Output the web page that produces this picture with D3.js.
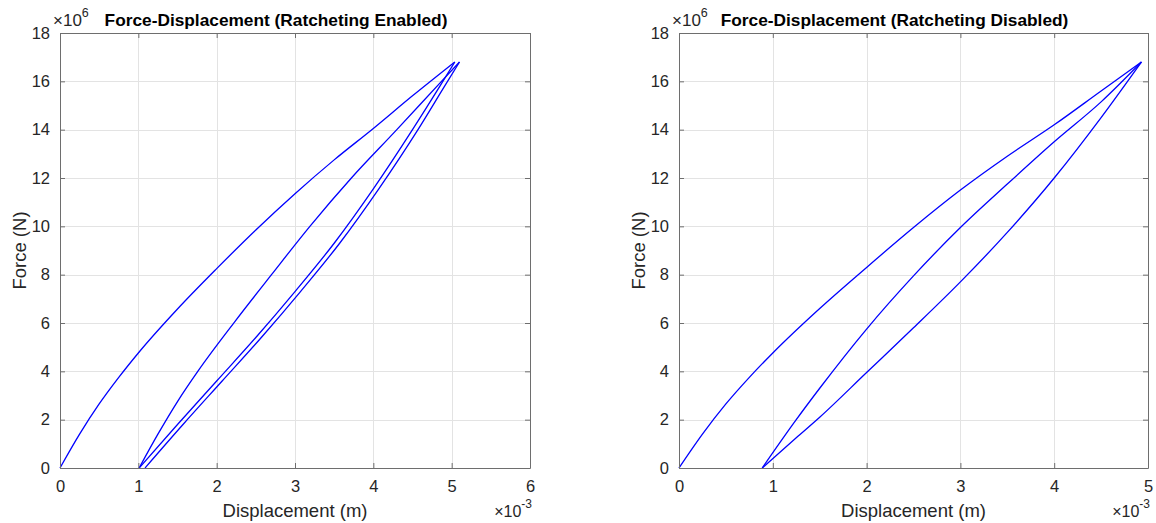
<!DOCTYPE html>
<html>
<head>
<meta charset="utf-8">
<script src="https://cdn.jsdelivr.net/npm/d3@7"></script>
<style>
  body { margin: 0; background: #fff; }
  svg { font-family: "Liberation Sans", Arial, Helvetica, sans-serif; }
  .tick text { fill: #262626; }
</style>
</head>
<body>
<svg id="chart" width="1156" height="523"></svg>
<script>
// ---------------- data (displacement in 1e-3 m, force in 1e6 N) ----------------

var forceTicks = [0, 2, 4, 6, 8, 10, 12, 14, 16, 18];
var enabledDispTicks = [0, 1, 2, 3, 4, 5, 6];
var disabledDispTicks = [0, 1, 2, 3, 4, 5];

// Ratcheting enabled
var enLoadDisp    = [0, 0.25, 0.5, 0.75, 1.0, 1.5, 2.0, 2.5, 3.0, 3.5, 4.0, 4.5, 5.04];
var enLoadForce   = [0, 1.4, 2.65, 3.75, 4.76, 6.58, 8.25, 9.85, 11.35, 12.75, 14.05, 15.4, 16.8];
var enUnloadADisp  = [1.01, 1.5, 2.0, 2.5, 3.0, 3.5, 4.0, 4.5, 4.85, 5.04];
var enUnloadAForce = [0, 1.8, 3.6, 5.4, 7.3, 9.3, 11.55, 14.0, 15.8, 16.8];
var enReloadDisp  = [1.01, 1.25, 1.5, 1.77, 2.23, 2.70, 3.19, 3.72, 4.30, 4.87, 5.1];
var enReloadForce = [0, 1.4, 2.75, 4.05, 6.05, 8.0, 10.0, 12.0, 14.0, 16.0, 16.8];
var enUnloadBDisp  = [1.085, 1.57, 2.07, 2.57, 3.07, 3.57, 4.07, 4.57, 4.91, 5.1];
var enUnloadBForce = [0, 1.8, 3.6, 5.4, 7.3, 9.3, 11.55, 14.0, 15.8, 16.8];

// Ratcheting disabled
var disLoadDisp    = [0, 0.25, 0.5, 0.75, 1.0, 1.5, 2.0, 2.5, 3.0, 3.5, 4.0, 4.5, 4.93];
var disLoadForce   = [0, 1.4, 2.65, 3.75, 4.76, 6.6, 8.3, 9.95, 11.5, 12.9, 14.2, 15.6, 16.8];
var disUnloadDisp  = [0.887, 1.25, 1.5, 2.0, 2.5, 3.0, 3.5, 4.0, 4.5, 4.93];
var disUnloadForce = [0, 1.25, 2.1, 3.95, 5.8, 7.7, 9.75, 12.0, 14.5, 16.8];
var disReloadDisp  = [0.887, 1.25, 1.5, 2.0, 2.5, 3.0, 3.5, 4.0, 4.5, 4.93];
var disReloadForce = [0, 2.0, 3.3, 5.75, 7.95, 9.95, 11.75, 13.5, 15.15, 16.8];

// ---------------- helpers ----------------

function zipPts(xs, ys) {
    return xs.map(function(x, i) { return [x, ys[i]]; });
}

var svg = d3.select('#chart');

function drawPanel(opt) {
    var xScale = d3.scaleLinear().domain(opt.xDomain).range([opt.left, opt.right]);
    var yScale = d3.scaleLinear().domain([0, 18]).range([opt.bottom, opt.top]);
    var g = svg.append('g');

    // grid
    g.append('g').selectAll('line').data(opt.xTicks).enter().append('line')
        .attr('x1', d => Math.round(xScale(d)) + 0.5).attr('x2', d => Math.round(xScale(d)) + 0.5)
        .attr('y1', opt.top).attr('y2', opt.bottom)
        .attr('stroke', '#e3e3e3').attr('stroke-width', 1);
    g.append('g').selectAll('line').data(forceTicks).enter().append('line')
        .attr('y1', d => Math.round(yScale(d)) + 0.5).attr('y2', d => Math.round(yScale(d)) + 0.5)
        .attr('x1', opt.left).attr('x2', opt.right)
        .attr('stroke', '#e3e3e3').attr('stroke-width', 1);

    // curves
    var line = d3.line()
        .x(d => xScale(d[0]))
        .y(d => yScale(d[1]))
        .curve(d3.curveMonotoneX);
    opt.branches.forEach(function(b) {
        g.append('path')
            .attr('d', line(b))
            .attr('fill', 'none')
            .attr('stroke', '#0000ff')
            .attr('stroke-width', 1.3);
    });

    // axes (box, ticks pointing in)
    var fmt = d3.format('d');
    var xAxis = d3.axisBottom(xScale).tickValues(opt.xTicks).tickFormat(fmt).tickSize(-5).tickSizeOuter(0).tickPadding(12);
    var yAxis = d3.axisLeft(yScale).tickValues(forceTicks).tickFormat(fmt).tickSize(-5).tickSizeOuter(0).tickPadding(10);
    var xTop = d3.axisTop(xScale).tickValues(opt.xTicks).tickSize(-5).tickSizeOuter(0).tickFormat('');
    var yRight = d3.axisRight(yScale).tickValues(forceTicks).tickSize(-5).tickSizeOuter(0).tickFormat('');

    [
        [xAxis, 'translate(0,' + opt.bottom + ')'],
        [yAxis, 'translate(' + opt.left + ',0)'],
        [xTop, 'translate(0,' + opt.top + ')'],
        [yRight, 'translate(' + opt.right + ',0)']
    ].forEach(function(a) {
        var ax = g.append('g').attr('transform', a[1]).call(a[0]);
        ax.select('.domain').attr('stroke', '#6e6e6e');
        ax.selectAll('.tick line').attr('stroke', '#6e6e6e');
        ax.selectAll('.tick text').style('font-size', '16.5px');
    });

    // title
    g.append('text')
        .attr('x', (opt.left + opt.right) / 2 - 19)
        .attr('y', 26)
        .attr('text-anchor', 'middle')
        .style('font-size', '17.3px')
        .style('font-weight', 'bold')
        .attr('fill', '#000')
        .text(opt.title);

    // exponent labels
    var e1 = g.append('text').attr('x', opt.left - 7).attr('y', 26)
        .style('font-size', '17px').attr('fill', '#262626');
    e1.append('tspan').text('\u00d710');
    e1.append('tspan').attr('dy', -9).style('font-size', '12.5px').text('6');

    var e2 = g.append('text').attr('x', opt.right + 2).attr('y', 517)
        .attr('text-anchor', 'end')
        .style('font-size', '16px').attr('fill', '#262626');
    e2.append('tspan').text('\u00d710');
    e2.append('tspan').attr('dy', -9).style('font-size', '12px').text('-3');

    // axis labels
    g.append('text')
        .attr('x', (opt.left + opt.right) / 2)
        .attr('y', 517)
        .attr('text-anchor', 'middle')
        .style('font-size', '18.5px')
        .attr('fill', '#262626')
        .text('Displacement (m)');

    g.append('text')
        .attr('transform', 'translate(' + (opt.left - 34) + ',' + ((opt.top + opt.bottom) / 2) + ') rotate(-90)')
        .attr('text-anchor', 'middle')
        .style('font-size', '18.5px')
        .attr('fill', '#262626')
        .text('Force (N)');
}

drawPanel({
    left: 60, right: 530, top: 33, bottom: 468,
    xDomain: [0, 6], xTicks: enabledDispTicks,
    title: 'Force-Displacement (Ratcheting Enabled)',
    branches: [
        zipPts(enLoadDisp, enLoadForce),
        zipPts(enUnloadADisp, enUnloadAForce),
        zipPts(enReloadDisp, enReloadForce),
        zipPts(enUnloadBDisp, enUnloadBForce)
    ]
});

drawPanel({
    left: 679, right: 1148, top: 33, bottom: 468,
    xDomain: [0, 5], xTicks: disabledDispTicks,
    title: 'Force-Displacement (Ratcheting Disabled)',
    branches: [
        zipPts(disLoadDisp, disLoadForce),
        zipPts(disUnloadDisp, disUnloadForce),
        zipPts(disReloadDisp, disReloadForce)
    ]
});
</script>
</body>
</html>
